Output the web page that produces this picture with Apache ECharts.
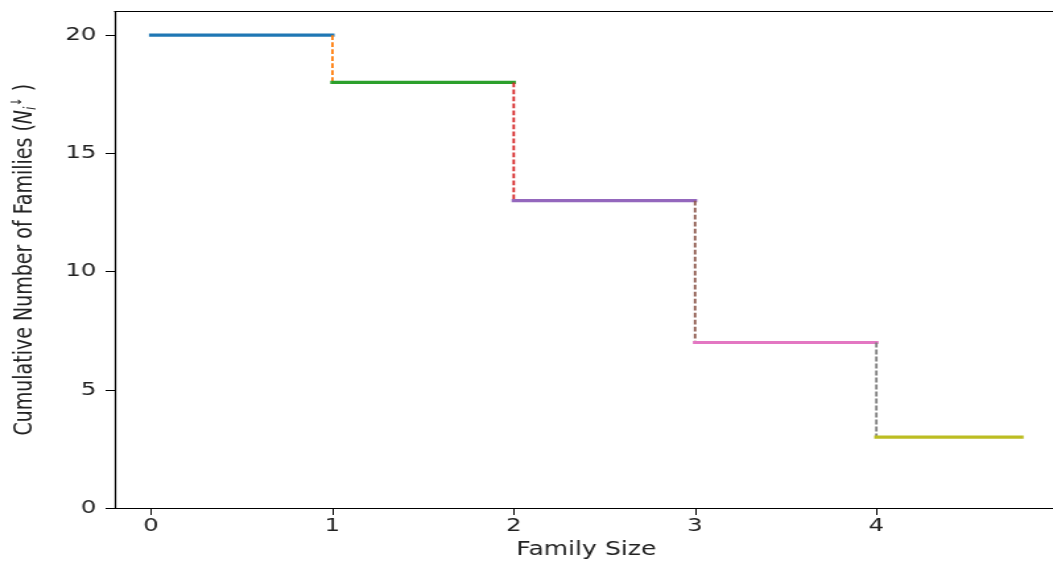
<!DOCTYPE html>
<html>
<head>
<meta charset="utf-8">
<script src="https://cdn.jsdelivr.net/npm/echarts@6/dist/echarts.min.js"></script>
<style>
  html, body { margin: 0; padding: 0; overflow: hidden; background: #fff; }
  #wrap { width: 1053px; height: 566px; overflow: hidden; }
  /* the figure is drawn on a narrower canvas and widened horizontally */
  #chart { width: 820px; height: 566px; transform: scaleX(1.3195); transform-origin: 0 0; }
</style>
</head>
<body>
<div id="wrap"><div id="chart"></div></div>
<script>
// Family sizes where each step begins, and the cumulative count held on that step
const familySizes = [0, 1, 2, 3, 4];
const cumulativeFamilies = [20, 18, 13, 7, 3];
const lastStepEnd = 4.8;

const xTicks = [0, 1, 2, 3, 4];
const yTicks = [0, 5, 10, 15, 20];

const palette = ['#1f77b4', '#ff7f0e', '#2ca02c', '#d62728', '#9467bd',
                 '#8c564b', '#e377c2', '#7f7f7f', '#bcbd22', '#17becf'];

const FONT = 'DejaVu Sans';

// Build one horizontal solid segment per step and a dashed drop between steps
const series = [];
let colorIdx = 0;
for (let i = 0; i < familySizes.length; i++) {
  const x0 = familySizes[i];
  const x1 = i < familySizes.length - 1 ? familySizes[i + 1] : lastStepEnd;
  series.push({
    type: 'line',
    data: [[x0, cumulativeFamilies[i]], [x1, cumulativeFamilies[i]]],
    showSymbol: false,
    silent: true,
    z: 3,
    lineStyle: { color: palette[colorIdx++ % palette.length], width: 3.2, cap: 'square' }
  });
  if (i < familySizes.length - 1) {
    series.push({
      type: 'line',
      data: [[x1, cumulativeFamilies[i]], [x1, cumulativeFamilies[i + 1]]],
      showSymbol: false,
      silent: true,
      z: 3,
      lineStyle: { color: palette[colorIdx++ % palette.length], width: 1.8, type: [4.9, 2.1], cap: 'butt' }
    });
  }
}

const axisLine = { show: true, onZero: false, lineStyle: { color: '#000', width: 1.2 } };

const chart = echarts.init(document.getElementById('chart'), null, { renderer: 'canvas' });
chart.setOption({
  animation: false,
  backgroundColor: '#fff',
  grid: { left: 86.1, top: 11.5, width: 715.5, bottom: 58 },
  xAxis: [{
    type: 'value',
    min: -0.2, max: 5.0,
    name: 'Family Size',
    nameLocation: 'middle',
    nameGap: 27,
    nameTextStyle: { fontFamily: FONT, fontSize: 19, color: '#222', lineHeight: 19 },
    axisLine: axisLine,
    axisTick: { show: true, length: 7, lineStyle: { color: '#000', width: 1 }, customValues: xTicks },
    axisLabel: { fontFamily: FONT, fontSize: 18.5, color: '#222', margin: 9, customValues: xTicks },
    splitLine: { show: false }
  }, {
    // top frame edge
    type: 'value',
    position: 'top',
    min: -0.2, max: 5.0,
    axisLine: axisLine,
    axisTick: { show: false },
    axisLabel: { show: false },
    splitLine: { show: false }
  }],
  yAxis: {
    type: 'value',
    min: 0, max: 21, interval: 5,
    name: 'Cumulative Number of Families ({n|N}{s|i}{p|↓} )',
    nameLocation: 'middle',
    nameGap: 57,
    nameTextStyle: {
      fontFamily: FONT, fontSize: 19, color: '#222', lineHeight: 22,
      rich: {
        n: { fontFamily: FONT, fontSize: 19, fontStyle: 'italic', color: '#222', lineHeight: 22 },
        s: { fontFamily: FONT, fontSize: 12, fontStyle: 'italic', color: '#222', lineHeight: 22, verticalAlign: 'bottom' },
        p: { fontFamily: FONT, fontSize: 11, color: '#222', lineHeight: 22, verticalAlign: 'top' }
      }
    },
    axisLine: axisLine,
    axisTick: { show: true, length: 7, lineStyle: { color: '#000', width: 1 }, customValues: yTicks },
    axisLabel: { fontFamily: FONT, fontSize: 18.5, color: '#222', margin: 14, customValues: yTicks },
    splitLine: { show: false }
  },
  series: series
});
</script>
</body>
</html>
